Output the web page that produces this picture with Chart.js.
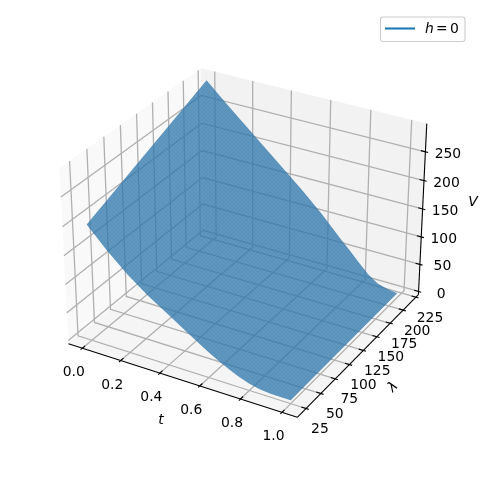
<!DOCTYPE html>
<html>
<head>
<meta charset="utf-8">
<style>
  html, body { margin: 0; padding: 0; background: #fff; }
  canvas { display: block; }
</style>
<script src="https://cdn.jsdelivr.net/npm/chart.js@4"></script>
</head>
<body>
<canvas id="chart" width="482" height="482"></canvas>
<script>
// --- Tick labels ---
const tTicks = [0, 0.2, 0.4, 0.6, 0.8, 1.0];
const lambdaTicks = [25, 50, 75, 100, 125, 150, 175, 200, 225];
const vTicks = [0, 50, 100, 150, 200, 250];

// --- Surface, read along its two long edges (t, lambda = low, lambda = high) ---
const surfaceT = [0, 0.1, 0.2, 0.3, 0.4, 0.5, 0.6, 0.65, 0.7, 0.75, 0.8, 0.85, 0.9, 0.95, 1.0];
const surfaceLambda = [25, 216];
const vAtLowLambda = [198, 163, 132, 106, 84, 61, 39, 29, 20, 12, 6, 2, 0, 0, 0];
const vAtHighLambda = [293, 262, 232, 202, 172, 142, 110, 92, 74, 57, 39, 22, 10, 5, 2];

// --- Axis limits ---
const tLimits = [-0.05, 1.05];
const lambdaLimits = [15, 225.5];
const vLimits = [0, 292];

// --- Camera of the 3D axes ---
const elev = 30 * Math.PI / 180;
const azim = -60 * Math.PI / 180;
const dist = 10;
const box = [1.1905, 1.1905, 0.93];
const paneGrow = 1 / 48;

const dir = [Math.cos(elev) * Math.cos(azim), Math.cos(elev) * Math.sin(azim), Math.sin(elev)];
const right = [-Math.sin(azim), Math.cos(azim), 0];
const up = [-Math.sin(elev) * Math.cos(azim), -Math.sin(elev) * Math.sin(azim), Math.cos(elev)];

function dot(a, b) {
  return a[0] * b[0] + a[1] * b[1] + a[2] * b[2];
}

// project a point given as fractions of the axis box
function projectUnit(ux, uy, uz) {
  const p = [(ux - 0.5) * box[0], (uy - 0.5) * box[1], (uz - 0.5) * box[2]];
  const depth = dist - dot(p, dir);
  return { x: dot(p, right) / depth, y: dot(p, up) / depth };
}

function frac(v, lim) {
  return (v - lim[0]) / (lim[1] - lim[0]);
}

// project a data point (t, lambda, V)
function project(t, lam, v) {
  return projectUnit(frac(t, tLimits), frac(lam, lambdaLimits), frac(v, vLimits));
}

const lo = -paneGrow;
const hi = 1 + paneGrow;

// --- Fine mesh look of the surface ---
function meshPattern() {
  const tile = document.createElement('canvas');
  tile.width = 4;
  tile.height = 4;
  const c = tile.getContext('2d');
  c.fillStyle = 'rgba(39,114,168,0.76)';
  c.fillRect(0, 0, 4, 4);
  c.strokeStyle = 'rgba(255,255,255,0.05)';
  c.lineWidth = 1;
  c.beginPath();
  c.moveTo(0, 0);
  c.lineTo(4, 4);
  c.moveTo(4, 0);
  c.lineTo(0, 4);
  c.stroke();
  return c.createPattern(tile, 'repeat');
}

// --- Datasets ---
const datasets = [];

function addLine(points, color, width) {
  datasets.push({
    type: 'line',
    data: points,
    borderColor: color,
    borderWidth: width,
    pointRadius: 0,
    fill: false,
    tension: 0,
    order: 100 - datasets.length
  });
}

function addPane(points, color) {
  datasets.push({
    type: 'line',
    data: points,
    borderColor: 'rgba(0,0,0,0)',
    borderWidth: 0,
    backgroundColor: color,
    pointRadius: 0,
    fill: 'shape',
    tension: 0,
    order: 100 - datasets.length
  });
}

const tOf = t => frac(t, tLimits);
const lamOf = l => frac(l, lambdaLimits);
const vOf = v => frac(v, vLimits);

// panes
function closed(list) {
  return list.concat([list[0]]);
}
addPane(closed([projectUnit(lo, lo, lo), projectUnit(lo, hi, lo), projectUnit(lo, hi, hi), projectUnit(lo, lo, hi)]), '#f9f9f9');
addPane(closed([projectUnit(lo, hi, lo), projectUnit(hi, hi, lo), projectUnit(hi, hi, hi), projectUnit(lo, hi, hi)]), '#f2f2f2');
addPane(closed([projectUnit(lo, lo, lo), projectUnit(hi, lo, lo), projectUnit(hi, hi, lo), projectUnit(lo, hi, lo)]), '#f5f5f5');

// grid lines
const gridColor = '#b0b0b0';
tTicks.forEach(t => addLine([projectUnit(tOf(t), lo, lo), projectUnit(tOf(t), hi, lo), projectUnit(tOf(t), hi, hi)], gridColor, 1.3));
lambdaTicks.forEach(l => addLine([projectUnit(hi, lamOf(l), lo), projectUnit(lo, lamOf(l), lo), projectUnit(lo, lamOf(l), hi)], gridColor, 1.3));
vTicks.forEach(v => addLine([projectUnit(lo, lo, vOf(v)), projectUnit(lo, hi, vOf(v)), projectUnit(hi, hi, vOf(v))], gridColor, 1.3));

// axis lines
addLine([projectUnit(lo, lo, lo), projectUnit(hi, lo, lo)], '#000', 1.1);
addLine([projectUnit(hi, lo, lo), projectUnit(hi, hi, lo)], '#000', 1.1);
addLine([projectUnit(hi, hi, lo), projectUnit(hi, hi, hi)], '#000', 1.1);

// tick marks
tTicks.forEach(t => addLine([projectUnit(tOf(t), lo + 0.02, lo), projectUnit(tOf(t), lo - 0.012, lo)], '#000', 1.1));
lambdaTicks.forEach(l => addLine([projectUnit(hi - 0.02, lamOf(l), lo), projectUnit(hi + 0.012, lamOf(l), lo)], '#000', 1.1));
vTicks.forEach(v => addLine([projectUnit(hi - 0.02, hi, vOf(v)), projectUnit(hi + 0.012, hi, vOf(v))], '#000', 1.1));

// surface outline, low lambda edge out and high lambda edge back
const surfaceEdge = [];
surfaceT.forEach((t, i) => surfaceEdge.push(project(t, surfaceLambda[0], vAtLowLambda[i])));
for (let i = surfaceT.length - 1; i >= 0; i--) {
  surfaceEdge.push(project(surfaceT[i], surfaceLambda[1], vAtHighLambda[i]));
}
addPane(closed(surfaceEdge), meshPattern());

// --- Text on top of the chart ---
const textPlugin = {
  id: 'axisText',
  afterDatasetsDraw(chart) {
    const ctx = chart.ctx;
    const sx = chart.scales.x;
    const sy = chart.scales.y;
    const px = p => ({ x: sx.getPixelForValue(p.x), y: sy.getPixelForValue(p.y) });

    ctx.save();
    ctx.fillStyle = '#000';
    ctx.textAlign = 'center';
    ctx.textBaseline = 'middle';
    ctx.font = '13.9px "DejaVu Sans"';

    tTicks.forEach(t => {
      const p = px(projectUnit(tOf(t), lo, lo));
      ctx.fillText(t.toFixed(1), p.x - 8.5, p.y + 24.5);
    });
    lambdaTicks.forEach(l => {
      const p = px(projectUnit(hi, lamOf(l), lo));
      ctx.fillText(String(l), p.x + 14, p.y + 21);
    });
    vTicks.forEach(v => {
      const p = px(projectUnit(hi, hi, vOf(v)));
      ctx.fillText(String(v), p.x + 22.5, p.y + 2.5);
    });

    // axis names
    ctx.font = 'italic 13.9px "DejaVu Sans"';
    ctx.fillText('t', 161, 420);
    ctx.fillText('V', 473, 202);
    ctx.save();
    ctx.translate(393, 387);
    ctx.rotate(-Math.PI / 4);
    ctx.fillText('λ', 0, 0);
    ctx.restore();

    // legend
    ctx.beginPath();
    ctx.roundRect(380.5, 17, 84.5, 24.5, 2.5);
    ctx.fillStyle = 'rgba(255,255,255,0.8)';
    ctx.fill();
    ctx.strokeStyle = '#cccccc';
    ctx.lineWidth = 1.1;
    ctx.stroke();
    ctx.beginPath();
    ctx.moveTo(385, 28.5);
    ctx.lineTo(415, 28.5);
    ctx.strokeStyle = '#1f77b4';
    ctx.lineWidth = 2.1;
    ctx.stroke();
    ctx.fillStyle = '#000';
    ctx.textAlign = 'left';
    ctx.font = 'italic 13.9px "DejaVu Sans"';
    ctx.fillText('h', 425, 29);
    ctx.font = '13.9px "DejaVu Sans"';
    ctx.fillText('=', 436, 29);
    ctx.fillText('0', 450, 29);
    ctx.restore();
  }
};

// --- Chart, x and y scales hold the projected coordinates ---
new Chart(document.getElementById('chart').getContext('2d'), {
  type: 'scatter',
  data: { datasets },
  options: {
    responsive: false,
    animation: false,
    layout: { padding: 0 },
    plugins: { legend: { display: false }, tooltip: { enabled: false } },
    scales: {
      x: { type: 'linear', display: false, min: -0.11669, max: 0.1112 },
      y: { type: 'linear', display: false, min: -0.12, max: 0.1134 }
    }
  },
  plugins: [textPlugin]
});
</script>
</body>
</html>
